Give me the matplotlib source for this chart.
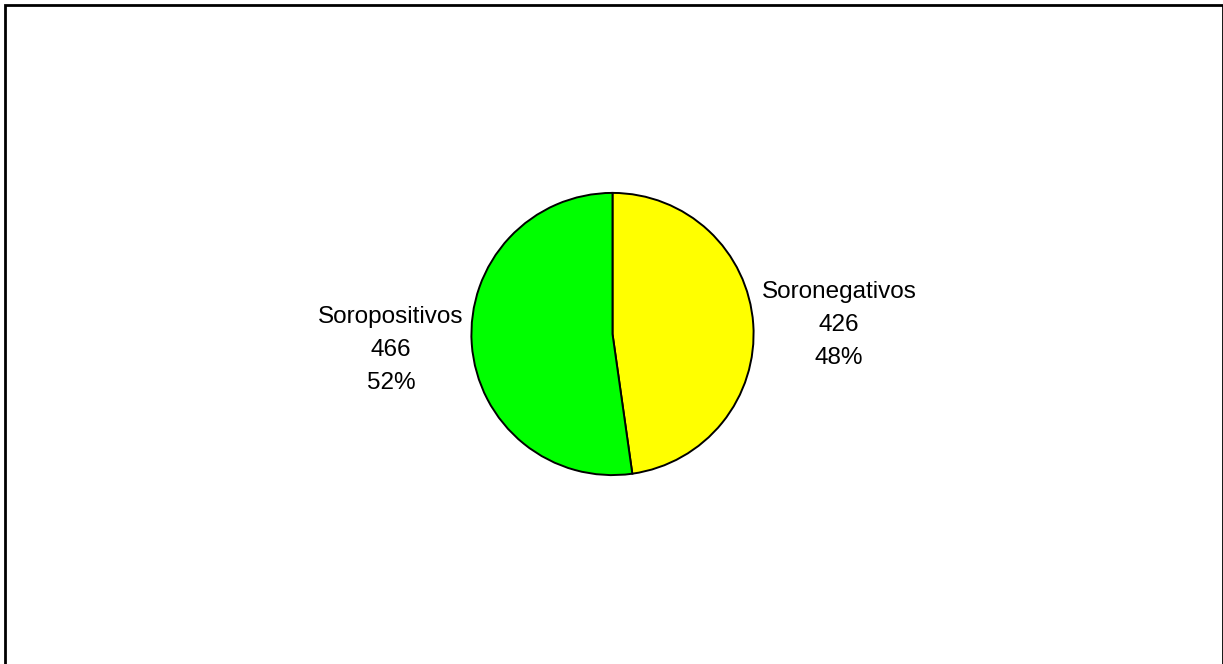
import matplotlib
matplotlib.use("Agg")
import matplotlib.pyplot as plt
from matplotlib.patches import Rectangle
from matplotlib.transforms import offset_copy

categories = ["Soronegativos", "Soropositivos"]
counts = [426, 466]
colors = ["#FFFF00", "#00FF00"]

plt.rcParams["font.family"] = ["Liberation Sans", "DejaVu Sans"]

W, H = 1223, 664
fig = plt.figure(figsize=(W / 100, H / 100), dpi=100)

# Pie centre and radius in pixels
cx, cy, r = 612.5, 334.0, 142.5
ax = fig.add_axes([(cx - r) / W, (H - cy - r) / H, 2 * r / W, 2 * r / H])

total = sum(counts)
labels = [f"{c}\n{n}\n{round(100 * n / total)}%" for c, n in zip(categories, counts)]

wedges, texts = ax.pie(counts, colors=colors, labels=labels, startangle=90,
                       counterclock=False, radius=1.0, labeldistance=1.575,
                       wedgeprops=dict(edgecolor="black", linewidth=1.4),
                       textprops=dict(ha="center", va="center", fontsize=17.5,
                                      linespacing=1.65))
# nudge the right-hand label slightly outward and down
texts[0].set_transform(offset_copy(texts[0].get_transform(), fig=fig,
                                   x=5, y=-7, units="dots"))
ax.set_xlim(-1.01, 1.01)
ax.set_ylim(-1.01, 1.01)
ax.set_aspect("equal")
ax.axis("off")

# Chart-area frame
fig.patches.append(Rectangle((4.5 / W, -0.05), (1222.5 - 4.5) / W, (H - 5.0) / H + 0.05,
                             transform=fig.transFigure, fill=False,
                             edgecolor="black", linewidth=2.0))

fig.savefig("out.png", dpi=100)
